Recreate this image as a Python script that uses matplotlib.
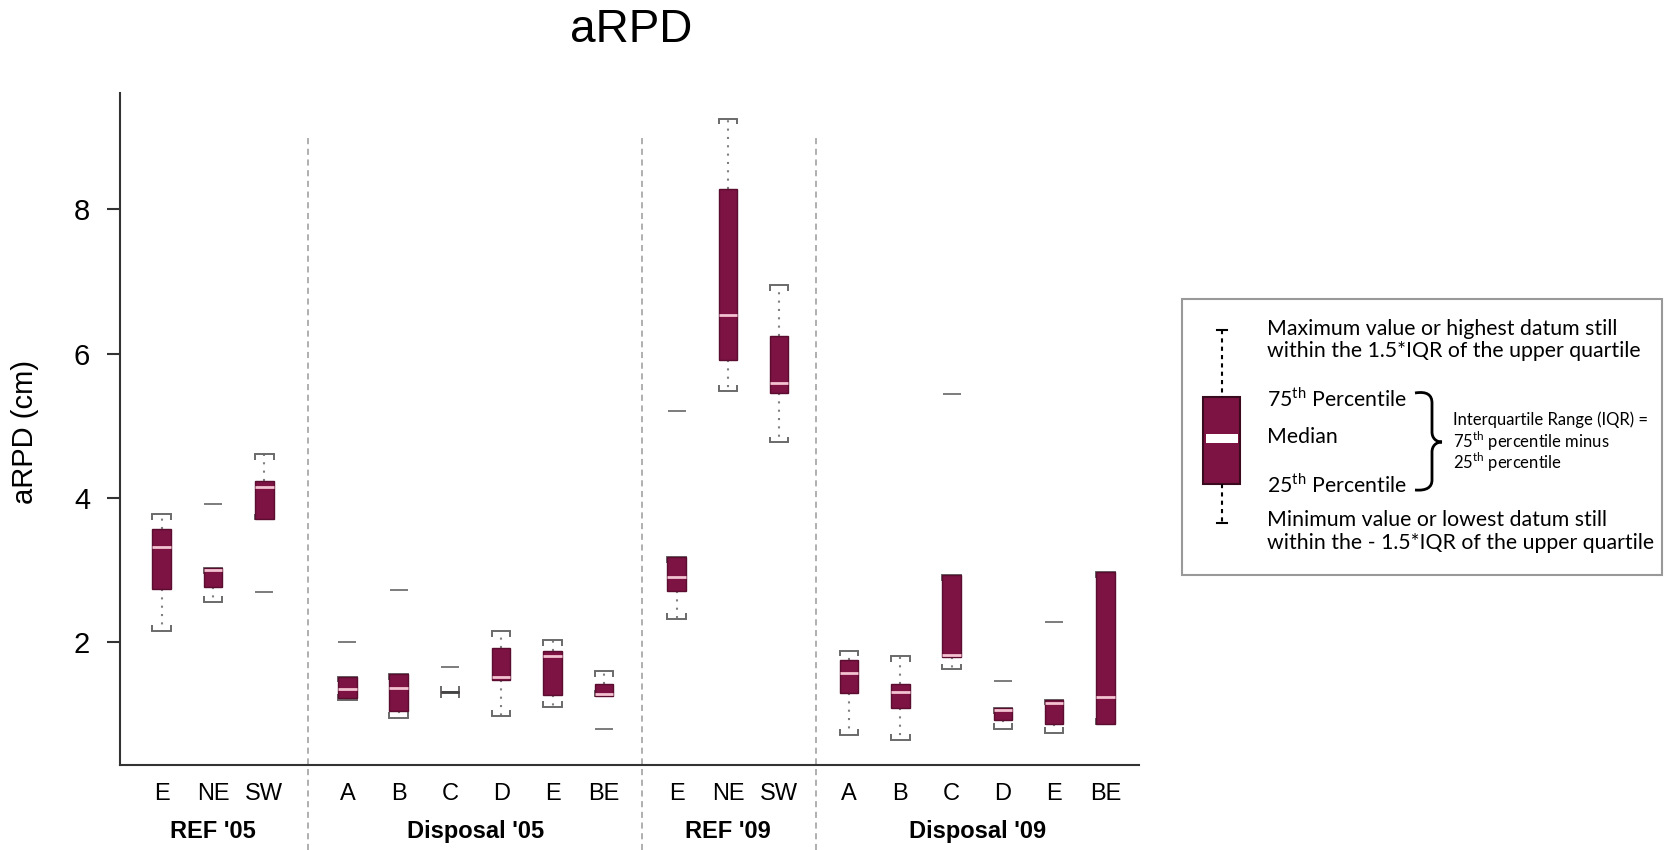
import matplotlib
matplotlib.use('Agg')
import matplotlib.pyplot as plt
import matplotlib.transforms as mtransforms
from matplotlib.path import Path
from matplotlib.patches import PathPatch, Rectangle

plt.rcParams['font.family'] = 'Liberation Sans'
plt.rcParams['mathtext.fontset'] = 'custom'
plt.rcParams['mathtext.rm'] = 'Lato'

# --- data ---
groups = ["REF '05", "Disposal '05", "REF '09", "Disposal '09"]
sites = [["E", "NE", "SW"],
         ["A", "B", "C", "D", "E", "BE"],
         ["E", "NE", "SW"],
         ["A", "B", "C", "D", "E", "BE"]]
whislo = [2.15, 2.56, 3.70, 1.20, 0.95, 1.31, 0.98, 1.10, 1.25,
          2.32, 5.48, 4.77, 0.71, 0.64, 1.62, 0.80, 0.74, 0.87]
q1 = [2.74, 2.76, 3.70, 1.22, 1.04, 1.31, 1.48, 1.26, 1.25,
      2.71, 5.91, 5.46, 1.29, 1.09, 1.79, 0.92, 0.87, 0.87]
med = [3.32, 3.00, 4.15, 1.35, 1.36, 1.31, 1.52, 1.81, 1.28,
       2.90, 6.53, 5.59, 1.57, 1.31, 1.82, 1.06, 1.15, 1.24]
q3 = [3.57, 3.03, 4.23, 1.52, 1.55, 1.31, 1.92, 1.87, 1.42,
      3.18, 8.28, 6.25, 1.75, 1.42, 2.93, 1.08, 1.20, 2.97]
whishi = [3.77, 3.03, 4.61, 1.52, 1.55, 1.31, 2.15, 2.03, 1.60,
          3.18, 9.26, 6.95, 1.88, 1.81, 2.93, 1.08, 1.20, 2.97]
outliers = [[], [3.92], [2.70], [2.00], [2.72], [1.66], [], [], [0.80],
            [5.21], [], [], [], [], [5.44], [1.46], [2.28], []]

# --- layout ---
W, H = 1665, 850
box_fill = '#7c1343'
box_edge = '#5a0d2f'
cap_col = '#6a6a6a'
group_gap = [0, 1.62, 1.42, 1.36]
box_w = 0.36

positions = []
for g, names in enumerate(sites):
    start = 0 if g == 0 else positions[-1] + group_gap[g]
    positions += [start + i for i in range(len(names))]

stats = []
for i in range(len(med)):
    stats.append({'med': med[i], 'q1': q1[i], 'q3': q3[i],
                  'whislo': whislo[i], 'whishi': whishi[i],
                  'fliers': outliers[i]})

fig = plt.figure(figsize=(W / 100, H / 100), dpi=100)
ax = fig.add_axes([120 / W, 1 - 764.6 / H, (1139.3 - 120) / W, (764.6 - 93.4) / H])

bp = ax.bxp(stats, positions=positions, widths=box_w, capwidths=box_w,
            patch_artist=True, manage_ticks=False,
            boxprops=dict(facecolor=box_fill, edgecolor=box_edge, linewidth=1, zorder=4),
            medianprops=dict(color='#f4c3d1', linewidth=2, zorder=5),
            whiskerprops=dict(color='#808080', linewidth=1.5, linestyle=(0, (1, 3)), zorder=2),
            capprops=dict(color=cap_col, linewidth=1.4, zorder=3),
            flierprops=dict(marker='_', markersize=13.5, markeredgewidth=1.2,
                            markeredgecolor='#666666'))

# a collapsed box shows only its dark staple line
for line, lo, hi in zip(bp['medians'], q1, q3):
    if lo == hi:
        line.set_color('#444444')

# small bracket ends on the caps
d = 0.08
for p, lo, hi in zip(positions, whislo, whishi):
    xs = [p - box_w / 2, p + box_w / 2]
    ax.vlines(xs, hi - d, hi, color=cap_col, lw=1.4, zorder=3)
    ax.vlines(xs, lo, lo + d, color=cap_col, lw=1.4, zorder=3)

ax.set_xlim(-0.813, 19.06)
ax.set_ylim(0.30, 9.61)
for s in ['top', 'right']:
    ax.spines[s].set_visible(False)
for s in ['left', 'bottom']:
    ax.spines[s].set_color('#333333')
    ax.spines[s].set_linewidth(1.5)

ax.set_yticks([2, 4, 6, 8])
ax.tick_params(axis='y', labelsize=21, length=9.5, width=1.5, pad=12, color='#333333')
all_sites = [s for names in sites for s in names]
ax.set_xticks(positions, all_sites)
ax.tick_params(axis='x', labelsize=17, length=0, pad=13)

# group labels and separators
trans = mtransforms.blended_transform_factory(ax.transData, fig.transFigure)
k = 0
for g, names in enumerate(sites):
    centre = (positions[k] + positions[k + len(names) - 1]) / 2
    ax.text(centre, 1 - 831.5 / H, groups[g], transform=trans, ha='center',
            va='center', fontsize=17, fontweight='bold')
    if g > 0:
        sep = positions[k - 1] + 0.53 * group_gap[g]
        ax.plot([sep, sep], [0, 1 - 136 / H], transform=trans, clip_on=False,
                color='#9a9a9a', lw=1.1, linestyle=(0, (4, 3)))
    k += len(names)

fig.text(25 / W, 1 - 432 / H, 'aRPD (cm)', rotation=90, ha='center', va='center', fontsize=21)
fig.text(631 / W, 1 - 30 / H, 'aRPD', ha='center', va='center', fontsize=33)

# --- explanatory key ---
lax = fig.add_axes([1182 / W, 1 - 575 / H, 480 / W, 276 / H])
lax.set_xlim(0, 480)
lax.set_ylim(276, 0)
lax.axis('off')
lax.add_patch(Rectangle((0, 0), 480, 276, fill=False, ec='#999999', lw=1.5, clip_on=False))

cx = 39.7
lax.plot([cx, cx], [31, 97.7], color='k', lw=1.5, linestyle=(0, (2, 2)))
lax.plot([cx, cx], [185, 224.3], color='k', lw=1.5, linestyle=(0, (2, 2)))
lax.plot([cx - 5, cx + 5], [31, 31], color='k', lw=1.5)
lax.plot([cx - 5, cx + 5], [224.3, 224.3], color='k', lw=1.5)
lax.add_patch(Rectangle((21.3, 97.7), 36.7, 87.3, fc=box_fill, ec='#3a0a1f', lw=1.5))
lax.add_patch(Rectangle((23.7, 134.7), 32.3, 9, fc='white', ec='none'))

key_font = dict(family='Lato', fontsize=15.3, va='center', ha='left')
lax.text(85.3, 30, 'Maximum value or highest datum still', **key_font)
lax.text(85.3, 52, 'within the 1.5*IQR of the upper quartile', **key_font)
lax.text(85.3, 100.3, r'75$^{\mathrm{th}}$ Percentile', **key_font)
lax.text(85.3, 137.7, 'Median', **key_font)
lax.text(85.3, 186, r'25$^{\mathrm{th}}$ Percentile', **key_font)
lax.text(85.3, 221, 'Minimum value or lowest datum still', **key_font)
lax.text(85.3, 244.3, 'within the - 1.5*IQR of the upper quartile', **key_font)

small_font = dict(family='Lato', fontsize=12, va='center', ha='left')
lax.text(270.7, 120.3, 'Interquartile Range (IQR) =', **small_font)
lax.text(270.7, 142.7, r'75$^{\mathrm{th}}$ percentile minus', **small_font)
lax.text(270.7, 163.7, r'25$^{\mathrm{th}}$ percentile', **small_font)

brace = Path([(233, 94), (245, 92), (250, 96), (250, 104),
              (250, 133),
              (250, 139), (254, 143), (260, 143),
              (254, 143), (250, 147), (250, 153),
              (250, 181),
              (250, 188), (245, 192), (233, 191)],
             [Path.MOVETO, Path.CURVE4, Path.CURVE4, Path.CURVE4,
              Path.LINETO,
              Path.CURVE4, Path.CURVE4, Path.CURVE4,
              Path.CURVE4, Path.CURVE4, Path.CURVE4,
              Path.LINETO,
              Path.CURVE4, Path.CURVE4, Path.CURVE4])
lax.add_patch(PathPatch(brace, fc='none', ec='k', lw=2))

fig.savefig('out.png', dpi=100)
